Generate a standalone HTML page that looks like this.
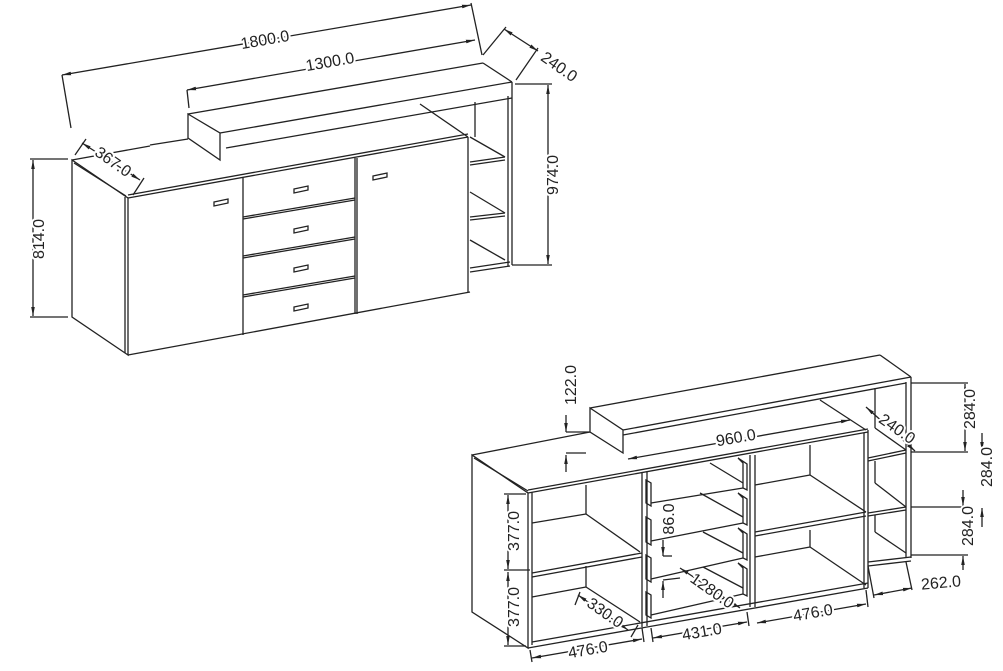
<!DOCTYPE html>
<html><head><meta charset="utf-8"><style>
html,body{margin:0;padding:0;background:#fff;}
svg{display:block}
text{font-family:"Liberation Sans",sans-serif;font-size:16px;fill:#222;stroke:#fff;stroke-width:4px;paint-order:stroke;stroke-linejoin:round;}
</style></head><body>
<svg width="1003" height="671" viewBox="0 0 1003 671" xmlns="http://www.w3.org/2000/svg">
<defs>
<marker id="a" viewBox="0 0 10 10" refX="10" refY="5" markerWidth="7" markerHeight="7" orient="auto-start-reverse"><path d="M0,3 L10,5 L0,7 z" fill="#222"/></marker>
</defs>
<g stroke="#222" stroke-width="1.3" fill="none">
<!-- TOP FIGURE -->
<path d="M72,160 L72,317 L128,355 L128,198 Z"/>
<line x1="125" y1="197" x2="125" y2="353"/>
<line x1="72" y1="160" x2="150" y2="146"/>
<line x1="150" y1="145" x2="188" y2="139"/>
<line x1="74" y1="163" x2="126" y2="196"/>
<line x1="128" y1="198" x2="468" y2="137"/>
<line x1="128" y1="195" x2="468" y2="134"/>
<line x1="128" y1="355" x2="470" y2="292"/>
<line x1="468" y1="137" x2="468" y2="292"/>
<line x1="243" y1="177" x2="243" y2="335"/>
<line x1="357" y1="158" x2="357" y2="314"/>
<line x1="355" y1="158" x2="355" y2="314"/>
<line x1="243" y1="217" x2="355" y2="198"/>
<line x1="243" y1="256" x2="355" y2="237"/>
<line x1="243" y1="295" x2="355" y2="276"/>
<line x1="243" y1="219" x2="355" y2="200"/>
<line x1="243" y1="258" x2="355" y2="239"/>
<line x1="243" y1="297" x2="355" y2="278"/>
<path d="M214,202 l14,-3 l0,4 l-14,3 z"/>
<path d="M294,189 l14,-3 l0,4 l-14,3 z"/>
<path d="M294,229 l14,-3 l0,4 l-14,3 z"/>
<path d="M294,268 l14,-3 l0,4 l-14,3 z"/>
<path d="M294,307 l14,-3 l0,4 l-14,3 z"/>
<path d="M373,176 l14,-3 l0,4 l-14,3 z"/>
<path d="M188,114 L220,133 L220,160 L188,138 Z"/>
<line x1="188" y1="114" x2="483" y2="63"/>
<line x1="220" y1="133" x2="512" y2="82"/>
<line x1="226" y1="148" x2="512" y2="98"/>
<line x1="483" y1="63" x2="512" y2="82"/>
<line x1="512" y1="82" x2="512" y2="265"/>
<line x1="508" y1="96" x2="508" y2="266"/>
<line x1="475" y1="102" x2="475" y2="137"/>
<line x1="420" y1="104" x2="468" y2="137"/>
<line x1="470" y1="137" x2="505" y2="157"/>
<line x1="470" y1="162" x2="505" y2="157"/>
<line x1="470" y1="165" x2="505" y2="160"/>
<line x1="470" y1="192" x2="505" y2="213"/>
<line x1="470" y1="217" x2="505" y2="213"/>
<line x1="470" y1="220" x2="505" y2="216"/>
<line x1="470" y1="240" x2="505" y2="260"/>
<line x1="470" y1="268" x2="510" y2="262"/>
<line x1="470" y1="272" x2="510" y2="266"/>
<line x1="62" y1="75" x2="471" y2="5" marker-start="url(#a)" marker-end="url(#a)"/>
<line x1="62" y1="75" x2="71" y2="128"/>
<line x1="471" y1="3" x2="482" y2="55"/>
<line x1="187" y1="90" x2="475" y2="40" marker-start="url(#a)" marker-end="url(#a)"/>
<line x1="187" y1="90" x2="189" y2="108"/>
<line x1="504" y1="29" x2="538" y2="51" marker-start="url(#a)" marker-end="url(#a)"/>
<line x1="483" y1="55" x2="506" y2="27"/>
<line x1="516" y1="80" x2="538" y2="48"/>
<line x1="548" y1="85" x2="548" y2="264" marker-start="url(#a)" marker-end="url(#a)"/>
<line x1="515" y1="84" x2="552" y2="84"/>
<line x1="512" y1="265" x2="552" y2="265"/>
<line x1="33" y1="160" x2="33" y2="316" marker-start="url(#a)" marker-end="url(#a)"/>
<line x1="30" y1="159" x2="68" y2="159"/>
<line x1="30" y1="317" x2="68" y2="317"/>
<line x1="82" y1="143" x2="140" y2="180" marker-start="url(#a)" marker-end="url(#a)"/>
<line x1="75" y1="155" x2="86" y2="139"/>
<line x1="133" y1="195" x2="144" y2="178"/>

<!-- BOTTOM FIGURE -->
<path d="M472,455 L472,612 L528,648 L528,493 Z"/>
<line x1="532" y1="492" x2="532" y2="645"/>
<line x1="472" y1="455" x2="590" y2="432"/>
<line x1="474" y1="458" x2="528" y2="491"/>
<line x1="528" y1="493" x2="868" y2="432"/>
<line x1="528" y1="490" x2="868" y2="429"/>
<line x1="528" y1="648" x2="868" y2="588"/>
<line x1="532" y1="642" x2="868" y2="583"/>
<line x1="868" y1="430" x2="868" y2="588"/>
<line x1="864" y1="433" x2="864" y2="588"/>
<line x1="642" y1="473" x2="642" y2="627"/>
<line x1="647" y1="472" x2="647" y2="626"/>
<line x1="750" y1="455" x2="750" y2="607"/>
<line x1="755" y1="455" x2="755" y2="607"/>
<line x1="586" y1="485" x2="586" y2="514"/>
<line x1="586" y1="566" x2="586" y2="587"/>
<line x1="532" y1="523" x2="586" y2="514"/>
<line x1="586" y1="514" x2="640" y2="552"/>
<line x1="532" y1="573" x2="642" y2="553"/>
<line x1="532" y1="577" x2="642" y2="557"/>
<line x1="532" y1="597" x2="586" y2="587"/>
<line x1="586" y1="587" x2="640" y2="622"/>
<path d="M646,480 L651,483 L651,506 L646,503 Z"/>
<path d="M646,517 L651,520 L651,545 L646,542 Z"/>
<path d="M646,555 L651,558 L651,582 L646,579 Z"/>
<path d="M646,592 L651,595 L651,618 L646,615 Z"/>
<path d="M738,458 L747,464 L747,490 L743,488 L743,463 Z"/>
<path d="M738,493 L747,499 L747,525 L743,523 L743,498 Z"/>
<path d="M738,528 L747,534 L747,560 L743,558 L743,533 Z"/>
<path d="M738,563 L747,569 L747,596 L743,594 L743,568 Z"/>
<line x1="651" y1="503" x2="743" y2="488"/>
<line x1="651" y1="541" x2="743" y2="523"/>
<line x1="651" y1="579" x2="743" y2="558"/>
<line x1="651" y1="615" x2="743" y2="594"/>
<line x1="710" y1="463" x2="743" y2="483"/>
<line x1="700" y1="493" x2="743" y2="517"/>
<line x1="703" y1="532" x2="743" y2="553"/>
<line x1="703" y1="567" x2="743" y2="588"/>
<line x1="810" y1="445" x2="810" y2="475"/>
<line x1="810" y1="530" x2="810" y2="547"/>
<line x1="755" y1="485" x2="810" y2="475"/>
<line x1="810" y1="475" x2="866" y2="512"/>
<line x1="755" y1="532" x2="866" y2="512"/>
<line x1="755" y1="536" x2="866" y2="516"/>
<line x1="755" y1="557" x2="810" y2="547"/>
<line x1="810" y1="547" x2="866" y2="585"/>
<path d="M590,408 L623,430 L623,453 L590,432 Z"/>
<line x1="590" y1="408" x2="880" y2="355"/>
<line x1="623" y1="430" x2="911" y2="377"/>
<line x1="623" y1="435" x2="906" y2="383"/>
<line x1="880" y1="355" x2="911" y2="377"/>
<line x1="820" y1="400" x2="866" y2="430"/>
<line x1="911" y1="377" x2="911" y2="558"/>
<line x1="906" y1="382" x2="906" y2="558"/>
<line x1="875" y1="388" x2="875" y2="428"/>
<line x1="875" y1="461" x2="875" y2="483"/>
<line x1="875" y1="515" x2="875" y2="532"/>
<line x1="875" y1="428" x2="906" y2="450"/>
<line x1="868" y1="458" x2="906" y2="450"/>
<line x1="868" y1="461" x2="906" y2="453"/>
<line x1="875" y1="483" x2="906" y2="507"/>
<line x1="868" y1="513" x2="906" y2="507"/>
<line x1="868" y1="516" x2="906" y2="510"/>
<line x1="875" y1="532" x2="906" y2="553"/>
<line x1="868" y1="562" x2="911" y2="557"/>
<line x1="868" y1="566" x2="911" y2="561"/>
<line x1="566" y1="415" x2="566" y2="432" marker-end="url(#a)"/>
<line x1="566" y1="472" x2="566" y2="455" marker-end="url(#a)"/>
<line x1="566" y1="432" x2="590" y2="432"/>
<line x1="566" y1="453" x2="586" y2="453"/>
<line x1="628" y1="459" x2="850" y2="420" marker-start="url(#a)" marker-end="url(#a)"/>
<line x1="866" y1="407" x2="915" y2="451" marker-start="url(#a)" marker-end="url(#a)"/>
<line x1="911" y1="383" x2="968" y2="383"/>
<line x1="911" y1="452" x2="968" y2="452"/>
<line x1="911" y1="507" x2="968" y2="507"/>
<line x1="911" y1="555" x2="968" y2="555"/>
<line x1="965" y1="384" x2="965" y2="451" marker-start="url(#a)" marker-end="url(#a)"/>
<line x1="982" y1="433" x2="982" y2="451" marker-end="url(#a)"/>
<line x1="982" y1="527" x2="982" y2="508" marker-end="url(#a)"/>
<line x1="963" y1="490" x2="963" y2="506" marker-end="url(#a)"/>
<line x1="963" y1="570" x2="963" y2="556" marker-end="url(#a)"/>
<line x1="508" y1="495" x2="508" y2="569" marker-start="url(#a)" marker-end="url(#a)"/>
<line x1="508" y1="572" x2="508" y2="645" marker-start="url(#a)" marker-end="url(#a)"/>
<line x1="504" y1="494" x2="526" y2="494"/>
<line x1="504" y1="570" x2="530" y2="570"/>
<line x1="504" y1="646" x2="526" y2="646"/>
<line x1="663" y1="540" x2="663" y2="556" marker-end="url(#a)"/>
<line x1="663" y1="598" x2="663" y2="581" marker-end="url(#a)"/>
<line x1="663" y1="556" x2="672" y2="556"/>
<line x1="663" y1="580" x2="680" y2="578"/>
<line x1="680" y1="568" x2="740" y2="608" marker-start="url(#a)" marker-end="url(#a)"/>
<line x1="578" y1="595" x2="628" y2="630" marker-start="url(#a)" marker-end="url(#a)"/>
<line x1="575" y1="605" x2="580" y2="592"/>
<line x1="631" y1="637" x2="638" y2="625"/>
<line x1="532" y1="658" x2="642" y2="639" marker-start="url(#a)" marker-end="url(#a)"/>
<line x1="530" y1="650" x2="532" y2="662"/>
<line x1="642" y1="628" x2="644" y2="642"/>
<line x1="653" y1="638" x2="747" y2="622" marker-start="url(#a)" marker-end="url(#a)"/>
<line x1="651" y1="628" x2="653" y2="642"/>
<line x1="747" y1="612" x2="749" y2="626"/>
<line x1="757" y1="623" x2="866" y2="604" marker-start="url(#a)" marker-end="url(#a)"/>
<line x1="866" y1="590" x2="868" y2="607"/>
<line x1="874" y1="595" x2="912" y2="588" marker-start="url(#a)" marker-end="url(#a)"/>
<line x1="868" y1="566" x2="874" y2="598"/>
<line x1="906" y1="562" x2="912" y2="590"/>
</g>
<g>
<text x="265" y="45" text-anchor="middle" transform="rotate(-10 265 40)">1800.0</text>
<text x="330" y="67" text-anchor="middle" transform="rotate(-10 330 62)">1300.0</text>
<text x="559" y="72" text-anchor="middle" transform="rotate(35 559 67)">240.0</text>
<text x="553" y="180" text-anchor="middle" transform="rotate(-90 553 175)">974.0</text>
<text x="39" y="244" text-anchor="middle" transform="rotate(-90 39 239)">814.0</text>
<text x="113" y="167" text-anchor="middle" transform="rotate(35 113 162)">367.0</text>
<text x="571" y="390" text-anchor="middle" transform="rotate(-90 571 385)">122.0</text>
<text x="736" y="443" text-anchor="middle" transform="rotate(-10 736 438)">960.0</text>
<text x="897" y="434" text-anchor="middle" transform="rotate(35 897 429)">240.0</text>
<text x="970" y="414" text-anchor="middle" transform="rotate(-90 970 409)">284.0</text>
<text x="987" y="472" text-anchor="middle" transform="rotate(-90 987 467)">284.0</text>
<text x="968" y="531" text-anchor="middle" transform="rotate(-90 968 526)">284.0</text>
<text x="514" y="536" text-anchor="middle" transform="rotate(-90 514 531)">377.0</text>
<text x="514" y="612" text-anchor="middle" transform="rotate(-90 514 607)">377.0</text>
<text x="669" y="524" text-anchor="middle" transform="rotate(-90 669 519)">86.0</text>
<text x="712" y="596" text-anchor="middle" transform="rotate(35 712 591)">1280.0</text>
<text x="605" y="618" text-anchor="middle" transform="rotate(35 605 613)">330.0</text>
<text x="588" y="655" text-anchor="middle" transform="rotate(-10 588 650)">476.0</text>
<text x="702" y="637" text-anchor="middle" transform="rotate(-10 702 632)">431.0</text>
<text x="813" y="618" text-anchor="middle" transform="rotate(-10 813 613)">476.0</text>
<text x="941" y="588" text-anchor="middle" transform="rotate(-5 941 583)">262.0</text>
</g>
</svg>
</body></html>
